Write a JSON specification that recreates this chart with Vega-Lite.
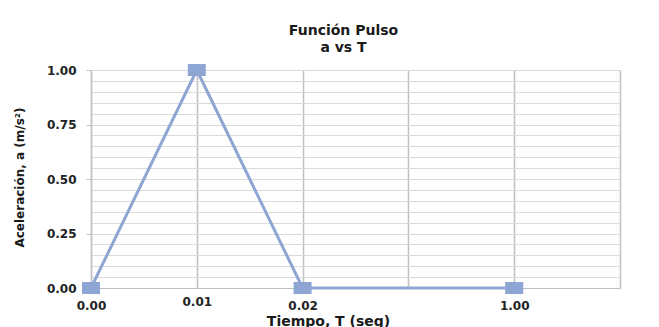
{
  "$schema": "https://vega.github.io/schema/vega-lite/v6.json",
  "width": 529,
  "height": 218,
  "autosize": "none",
  "padding": {"left": 91, "top": 70, "right": 39, "bottom": 39},
  "background": "white",
  "config": {"view": {"stroke": null}, "font": "DejaVu Sans"},
  "title": {
    "text": ["Función Pulso", "a vs T"],
    "fontSize": 14,
    "font": "DejaVu Sans",
    "fontWeight": "bold",
    "color": "#1a1a1a",
    "lineHeight": 17,
    "anchor": "middle",
    "dx": -12,
    "offset": 9
  },
  "data": {
    "values": [
      {"t": "0.00", "a": 0},
      {"t": "0.01", "a": 1},
      {"t": "0.02", "a": 0},
      {"t": "1.00", "a": 0}
    ]
  },
  "encoding": {
    "x": {
      "field": "t",
      "type": "ordinal",
      "sort": null,
      "scale": {"type": "point", "domain": ["0.00", "0.01", "0.02", " ", "1.00", "  "], "padding": 0},
      "axis": {
        "title": "Tiempo, T (seg)",
        "labelAngle": 0,
        "ticks": false,
        "grid": true,
        "gridColor": "#C2C2C2",
        "gridWidth": 1.6,
        "domainColor": "#BFBFBF",
        "domainWidth": 1.2,
        "labelFont": "DejaVu Sans",
        "labelFontWeight": "bold",
        "labelFontSize": 12,
        "labelColor": "#222222",
        "labelPadding": {"condition": {"test": "datum.value === '0.01'", "value": 8}, "value": 12},
        "titleFont": "DejaVu Sans",
        "titleFontSize": 14,
        "titleFontWeight": "bold",
        "titleColor": "#1a1a1a",
        "titleX": 237,
        "titleY": 37,
        "titleAlign": "center",
        "titleBaseline": "alphabetic"
      }
    },
    "y": {
      "field": "a",
      "type": "quantitative",
      "scale": {"domain": [0, 1], "nice": false, "zero": true},
      "axis": {
        "title": "Aceleración, a (m/s²)",
        "values": [0, 0.05, 0.1, 0.15, 0.2, 0.25, 0.3, 0.35, 0.4, 0.45, 0.5, 0.55, 0.6, 0.65, 0.7, 0.75, 0.8, 0.85, 0.9, 0.95, 1],
        "labelExpr": "round(datum.value*100) % 25 === 0 ? format(datum.value, '.2f') : ''",
        "labelOverlap": false,
        "labelFlush": false,
        "tickSize": 5,
        "tickColor": "#BFBFBF",
        "tickOpacity": {"condition": {"test": "round(datum.value*100) % 25 !== 0", "value": 0}, "value": 1},
        "domainColor": "#BFBFBF",
        "domainWidth": 1.2,
        "gridColor": "#DADADA",
        "gridWidth": 1.2,
        "labelPadding": 10,
        "labelFont": "DejaVu Sans",
        "labelFontWeight": "bold",
        "labelFontSize": 12,
        "labelColor": "#222222",
        "titleFont": "DejaVu Sans",
        "titleFontSize": 12,
        "titleFontWeight": "bold",
        "titleColor": "#1a1a1a",
        "titleX": -68,
        "titleY": 107,
        "titleAlign": "center",
        "titleBaseline": "alphabetic"
      }
    }
  },
  "layer": [
    {"mark": {"type": "line", "color": "#8EA6D3", "strokeWidth": 3}},
    {"mark": {"type": "point", "shape": "M-1,-0.667H1V0.667H-1Z", "size": 324, "filled": true, "color": "#8EA6D3", "opacity": 1}}
  ]
}
